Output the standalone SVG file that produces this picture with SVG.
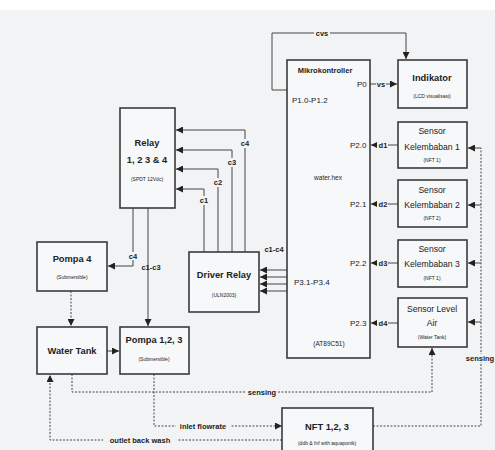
<svg xmlns="http://www.w3.org/2000/svg" width="495" height="450" viewBox="0 0 495 450">
<defs>
<marker id="ah" viewBox="0 0 10 10" refX="10" refY="5" markerWidth="7" markerHeight="7" markerUnits="userSpaceOnUse" orient="auto"><path d="M0,0 L10,5 L0,10 z" fill="#222"/></marker>
</defs>
<style>
.box{fill:#f7f8f9;stroke:#3a3a3a;stroke-width:1.6}
.ln{fill:none;stroke:#444;stroke-width:1}
.dl{fill:none;stroke:#444;stroke-width:1;stroke-dasharray:2,1.5}
.t{font-family:"Liberation Sans",Arial,sans-serif;fill:#222;text-anchor:middle}
.tb{font-size:9.3px;font-weight:bold}
.tm{font-size:8.6px}
.ts{font-size:5px}
.lb{font-family:"Liberation Sans",Arial,sans-serif;fill:#222;font-size:7.5px;font-weight:bold;text-anchor:middle}
.pl{font-family:"Liberation Sans",Arial,sans-serif;fill:#222;font-size:8px}
.bg{fill:#f2f3f5}
</style>
<rect x="0" y="0" width="495" height="450" fill="#ffffff"/>
<rect x="0" y="10" width="495" height="440" fill="#f2f3f5"/>

<g id="connectors">
<path class="ln" d="M287,90 H272 V33 H406 V59" marker-end="url(#ah)"/>
<path class="ln" d="M370,84 H397" marker-end="url(#ah)"/>
<path class="ln" d="M398,145 H371" marker-end="url(#ah)"/>
<path class="ln" d="M398,204 H371" marker-end="url(#ah)"/>
<path class="ln" d="M398,263 H371" marker-end="url(#ah)"/>
<path class="ln" d="M398,323 H371" marker-end="url(#ah)"/>
<path class="ln" d="M245,252 V130 H176" marker-end="url(#ah)"/>
<path class="ln" d="M232,252 V150 H176" marker-end="url(#ah)"/>
<path class="ln" d="M218,252 V169 H176" marker-end="url(#ah)"/>
<path class="ln" d="M204,252 V189 H176" marker-end="url(#ah)"/>
<path class="ln" d="M287,270 H260" marker-end="url(#ah)"/>
<path class="ln" d="M287,277 H260" marker-end="url(#ah)"/>
<path class="ln" d="M287,284 H260" marker-end="url(#ah)"/>
<path class="ln" d="M287,291 H260" marker-end="url(#ah)"/>
<path class="ln" d="M133,208 V266 H108" marker-end="url(#ah)"/>
<path class="ln" d="M148,208 V326" marker-end="url(#ah)"/>
<path class="dl" d="M71,291 V326" marker-end="url(#ah)"/>
<path class="ln" d="M107,351 H119" marker-end="url(#ah)"/>
<path class="dl" d="M72,374 V392 H432 V348" marker-end="url(#ah)"/>
<path class="dl" d="M154,374 V426 H282" marker-end="url(#ah)"/>
<path class="dl" d="M282,440 H50 V375" marker-end="url(#ah)"/>
<path class="dl" d="M373,426 H481 V148"/>
<path class="ln" d="M481,148 H468" marker-end="url(#ah)"/>
<path class="ln" d="M481,205 H468" marker-end="url(#ah)"/>
<path class="ln" d="M481,263 H468" marker-end="url(#ah)"/>
<path class="ln" d="M481,322 H468" marker-end="url(#ah)"/>
<rect class="bg" x="314" y="29" width="16" height="8"/>
<text class="lb" x="322" y="36">cvs</text>
<rect class="bg" x="376" y="80" width="10" height="8"/>
<text class="lb" x="381" y="87">vs</text>
<rect class="bg" x="377" y="141" width="11" height="8"/>
<text class="lb" x="383" y="148">d1</text>
<rect class="bg" x="377" y="200" width="11" height="8"/>
<text class="lb" x="383" y="207">d2</text>
<rect class="bg" x="377" y="259" width="11" height="8"/>
<text class="lb" x="383" y="266">d3</text>
<rect class="bg" x="377" y="319" width="11" height="8"/>
<text class="lb" x="383" y="326">d4</text>
<rect class="bg" x="240" y="139" width="10" height="9"/>
<text class="lb" x="245" y="146">c4</text>
<rect class="bg" x="227" y="158" width="10" height="9"/>
<text class="lb" x="232" y="165">c3</text>
<rect class="bg" x="213" y="178" width="10" height="9"/>
<text class="lb" x="218" y="185">c2</text>
<rect class="bg" x="199" y="196" width="10" height="9"/>
<text class="lb" x="204" y="203">c1</text>
<text class="lb" x="274" y="252">c1-c4</text>
<rect class="bg" x="128" y="252" width="10" height="8"/>
<text class="lb" x="133" y="259">c4</text>
<text class="lb" x="151" y="270">c1-c3</text>
<rect class="bg" x="246" y="388" width="32" height="8"/>
<text class="lb" x="262" y="395">sensing</text>
<rect class="bg" x="176" y="422" width="54" height="8"/>
<text class="lb" x="203" y="429">inlet flowrate</text>
<rect class="bg" x="103" y="436" width="74" height="8"/>
<text class="lb" x="140" y="443">outlet back wash</text>
<rect class="bg" x="465" y="354" width="30" height="8"/>
<text class="lb" x="480" y="361">sensing</text>
</g>

<g id="mikrokontroller">
<rect class="box" x="287" y="60" width="83" height="298"/>
<text class="t" x="325" y="73" style="font-size:7.5px;font-weight:bold">Mikrokontroller</text>
<text class="pl" x="357" y="87">P0</text>
<text class="pl" x="292" y="103">P1.0-P1.2</text>
<text class="t" x="328" y="180" style="font-size:6.5px">water.hex</text>
<text class="pl" x="350" y="148">P2.0</text>
<text class="pl" x="350" y="207">P2.1</text>
<text class="pl" x="350" y="266">P2.2</text>
<text class="pl" x="350" y="326">P2.3</text>
<text class="pl" x="294" y="285">P3.1-P3.4</text>
<text class="t" x="329" y="346" style="font-size:6.5px">(AT89C51)</text>
</g>

<g id="indikator">
<rect class="box" x="398" y="60" width="69" height="48"/>
<text class="t tb" x="432" y="81">Indikator</text>
<text class="t ts" x="432" y="98">(LCD visualisasi)</text>
</g>

<g id="sensor1">
<rect class="box" x="398" y="122" width="69" height="46"/>
<text class="t tm" x="432" y="134">Sensor</text>
<text class="t tm" x="432" y="150">Kelembaban 1</text>
<text class="t ts" x="432" y="162">(NFT 1)</text>
</g>
<g id="sensor2">
<rect class="box" x="398" y="180" width="69" height="47"/>
<text class="t tm" x="432" y="193">Sensor</text>
<text class="t tm" x="432" y="208">Kelembaban 2</text>
<text class="t ts" x="432" y="220">(NFT 2)</text>
</g>
<g id="sensor3">
<rect class="box" x="398" y="240" width="69" height="47"/>
<text class="t tm" x="432" y="252">Sensor</text>
<text class="t tm" x="432" y="267">Kelembaban 3</text>
<text class="t ts" x="432" y="280">(NFT 1)</text>
</g>
<g id="sensorlevel">
<rect class="box" x="398" y="298" width="69" height="49"/>
<text class="t tm" x="432" y="312">Sensor Level</text>
<text class="t tm" x="432" y="326">Air</text>
<text class="t ts" x="432" y="339">(Water Tank)</text>
</g>

<g id="relay">
<rect class="box" x="120" y="108" width="55" height="100"/>
<text class="t tb" x="147" y="146">Relay</text>
<text class="t tb" x="147" y="163">1, 2 3 &amp; 4</text>
<text class="t ts" x="147" y="181">(SPDT 12Vdc)</text>
</g>

<g id="driverrelay">
<rect class="box" x="189" y="252" width="70" height="60"/>
<text class="t tb" x="224" y="278">Driver Relay</text>
<text class="t ts" x="224" y="297">(ULN2003)</text>
</g>

<g id="pompa4">
<rect class="box" x="37" y="242" width="70" height="49"/>
<text class="t tb" x="72" y="262">Pompa 4</text>
<text class="t ts" x="72" y="279">(Submersible)</text>
</g>

<g id="watertank">
<rect class="box" x="37" y="327" width="70" height="47"/>
<text class="t tb" x="72" y="354">Water Tank</text>
</g>

<g id="pompa123">
<rect class="box" x="120" y="327" width="69" height="47"/>
<text class="t tb" x="154" y="343">Pompa 1,2, 3</text>
<text class="t ts" x="154" y="361">(Submersible)</text>
</g>

<g id="nft">
<rect class="box" x="282" y="408" width="91" height="44"/>
<text class="t tb" x="327" y="430">NFT 1,2, 3</text>
<text class="t ts" x="327" y="445">(ddb &amp; fnf with aquaponik)</text>
</g>
</svg>
